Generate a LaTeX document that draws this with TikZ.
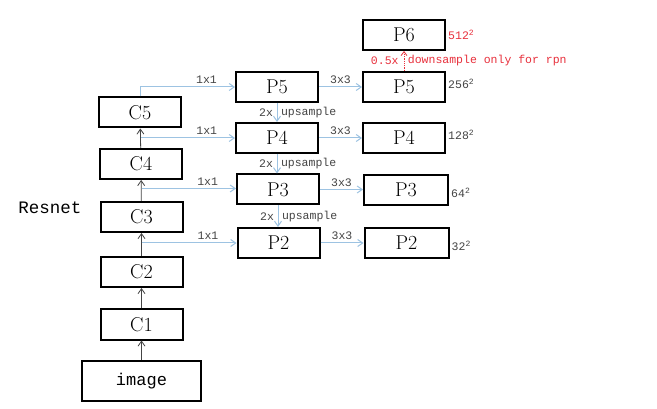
\documentclass[tikz,border=0pt]{standalone}
\usepackage{fontspec}
\newfontfamily\monofont{Liberation Mono}
\usetikzlibrary{arrows.meta}
\definecolor{lblue}{HTML}{9DC3E2}
\definecolor{rred}{HTML}{E8303C}
\definecolor{dgray}{HTML}{444444}
\tikzset{
  cbox/.style={draw=black, line width=2pt, minimum width=82pt, minimum height=30pt, inner sep=0pt, font=\fontsize{20}{22}\selectfont},
  pbox/.style={cbox},
  lat/.style={draw=lblue, line width=1pt, -{Straight Barb[length=5pt,width=7pt]}},
  up/.style={draw=dgray, line width=0.8pt, -{Straight Barb[length=5pt,width=7pt]}},
  small/.style={font=\monofont\fontsize{11.5}{13}\selectfont, text=dgray, inner sep=1pt},
  redtxt/.style={font=\monofont\fontsize{11.5}{13}\selectfont, text=rred, inner sep=1pt},
}
\begin{document}
\begin{tikzpicture}[x=1pt,y=-1pt]
\useasboundingbox[fill=white] (0,0) rectangle (657,409);
% backbone
\node[cbox, minimum width=119pt, minimum height=40pt, font=\monofont\fontsize{17}{19}\selectfont] (img) at (141.5,381) {image};
\node[cbox] (C1) at (141.5,324.5) {C1};
\node[cbox] (C2) at (141.5,272) {C2};
\node[cbox] (C3) at (141.5,217) {C3};
\node[cbox] (C4) at (141,164) {C4};
\node[cbox] (C5) at (140,112.5) {C5};
\node[font=\monofont\fontsize{17.5}{20}\selectfont] (res) at (50,208) {Resnet};
\draw[up] (img) -- (C1);
\draw[up] (C1) -- (C2);
\draw[up] (C2) -- (C3);
\draw[up] (C3) -- (C4);
\draw[up] (C4) -- (C5);
% top-down
\node[pbox] (P5) at (277,87) {P5};
\node[pbox] (P4) at (277,138) {P4};
\node[pbox] (P3) at (278,189.5) {P3};
\node[pbox] (P2) at (278.5,243) {P2};
% outputs
\node[pbox] (Q6) at (404,35) {P6};
\node[pbox] (Q5) at (404,87) {P5};
\node[pbox] (Q4) at (404,138) {P4};
\node[pbox, minimum width=84pt] (Q3) at (406,190) {P3};
\node[pbox, minimum width=84pt] (Q2) at (406.5,243) {P2};
% lateral 1x1
\coordinate (m4) at (141,138);
\coordinate (m3) at (141.5,188.5);
\coordinate (m2) at (141.5,243);
\draw[lat] (C5.north) |- node[pos=0.85, above=1.5pt, small]{1x1} (P5.west);
\draw[lat] (m4) -- node[pos=0.7, above=1.5pt, small]{1x1} (m4 -| P4.west);
\draw[lat] (m3) -- node[pos=0.7, above=1.5pt, small]{1x1} (m3 -| P3.west);
\draw[lat] (m2) -- node[pos=0.7, above=1.5pt, small]{1x1} (m2 -| P2.west);
% upsample
\draw[lat] (P5.south) -- node[left=2.5pt, small]{2x} node[right=2.5pt, small]{upsample} (P4.north);
\draw[lat] (P4.south) -- node[left=2.5pt, small]{2x} node[right=2.5pt, small]{upsample} (P3.north -| P4.south);
\draw[lat] (P3.south) -- node[left=2.5pt, small]{2x} node[right=2.5pt, small]{upsample} (P2.north -| P3.south);
% 3x3
\draw[lat] (P5.east) -- node[above=1.5pt, small]{3x3} (Q5.west);
\draw[lat] (P4.east) -- node[above=1.5pt, small]{3x3} (Q4.west);
\draw[lat] (P3.east) -- node[above=1.5pt, small]{3x3} (P3.east -| Q3.west);
\draw[lat] (P2.east) -- node[above=1.5pt, small]{3x3} (P2.east -| Q2.west);
% downsample
\draw[draw=rred, line width=0.8pt, densely dotted, -{Straight Barb[length=4pt,width=6pt]}] (Q5.north) -- node[left=4pt, redtxt]{0.5x} node[right=2.5pt, redtxt]{downsample only for rpn} (Q6.south);
% sizes
\node[redtxt, anchor=west] (s6) at ([xshift=1pt]Q6.east) {512\textsuperscript{2}};
\node[small, anchor=west] (s5) at ([xshift=1pt,yshift=3pt]Q5.east) {256\textsuperscript{2}};
\node[small, anchor=west] (s4) at ([xshift=1pt,yshift=3pt]Q4.east) {128\textsuperscript{2}};
\node[small, anchor=west] (s3) at ([xshift=1pt,yshift=-3pt]Q3.east) {64\textsuperscript{2}};
\node[small, anchor=west] (s2) at ([xshift=1pt,yshift=-3pt]Q2.east) {32\textsuperscript{2}};
\end{tikzpicture}
\end{document}
